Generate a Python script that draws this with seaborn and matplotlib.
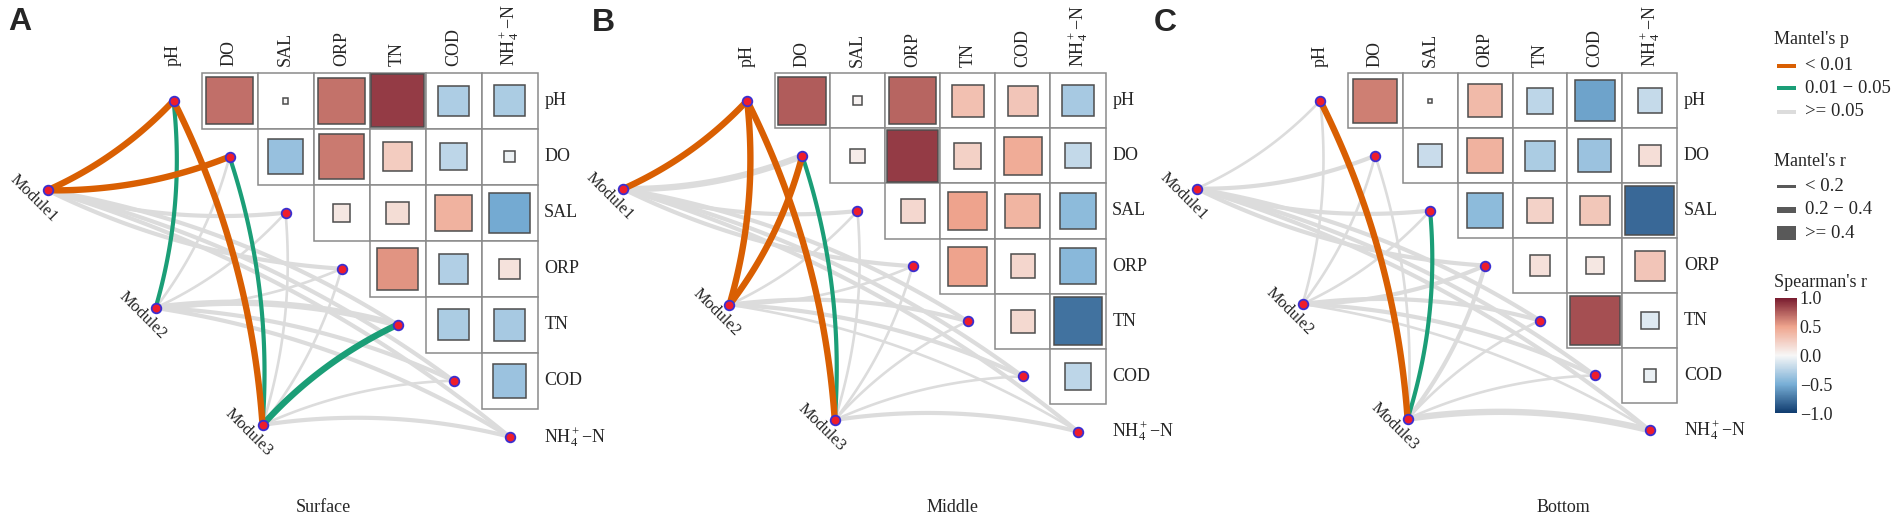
import numpy as np
import matplotlib.pyplot as plt
from matplotlib.patches import Rectangle
import matplotlib as mpl
import seaborn as sns

sns.set_style("white")
plt.rcParams["font.family"] = ["Liberation Serif", "DejaVu Serif"]
plt.rcParams["mathtext.fontset"] = "custom"
plt.rcParams["mathtext.rm"] = "Liberation Serif"
plt.rcParams["mathtext.it"] = "Liberation Serif:italic"
plt.rcParams["mathtext.bf"] = "Liberation Serif:bold"

# ---------------- dados ----------------
env_names = ["pH", "DO", "SAL", "ORP", "TN", "COD", "NH4"]
env_labels = ["pH", "DO", "SAL", "ORP", "TN", "COD", "NH$_4^+$\u2212N"]
modules = ["Module1", "Module2", "Module3"]
layers = ["Surface", "Middle", "Bottom"]
panel_tags = ["A", "B", "C"]

# Spearman's r, triangulo superior lido linha a linha
# (pH-DO, pH-SAL, ..., pH-NH4, DO-SAL, ..., COD-NH4)
spearman_surface = [0.69, 0.01, 0.68, 0.88, -0.29, -0.30,
                    -0.38, 0.65, 0.26, -0.23, -0.04,
                    0.10, 0.16, 0.42, -0.52,
                    0.56, -0.28, 0.13,
                    -0.30, -0.32,
                    -0.36]
spearman_middle = [0.76, 0.03, 0.73, 0.33, 0.30, -0.32,
                   0.07, 0.88, 0.23, 0.46, -0.21,
                   0.19, 0.50, 0.40, -0.42,
                   0.50, 0.20, -0.43,
                   0.18, -0.76,
                   -0.23]
spearman_bottom = [0.64, 0.005, 0.37, -0.23, -0.55, -0.20,
                   -0.18, 0.42, -0.30, -0.36, 0.15,
                   -0.42, 0.22, 0.29, -0.80,
                   0.14, 0.10, 0.30,
                   0.81, -0.10,
                   -0.05]

# Mantel: linhas Module1..Module3, colunas env_names
mantel_r_surface = [[0.46, 0.44, 0.27, 0.26, 0.28, 0.27, 0.25],
                    [0.32, 0.14, 0.13, 0.15, 0.41, 0.29, 0.26],
                    [0.43, 0.33, 0.15, 0.12, 0.47, 0.16, 0.28]]
mantel_p_surface = [[0.001, 0.003, 0.22, 0.35, 0.18, 0.27, 0.31],
                    [0.028, 0.46, 0.53, 0.37, 0.09, 0.16, 0.21],
                    [0.004, 0.022, 0.62, 0.49, 0.014, 0.42, 0.27]]
mantel_r_middle = [[0.45, 0.41, 0.27, 0.25, 0.29, 0.26, 0.24],
                   [0.44, 0.45, 0.14, 0.13, 0.28, 0.26, 0.17],
                   [0.42, 0.33, 0.15, 0.14, 0.16, 0.13, 0.27]]
mantel_p_middle = [[0.002, 0.08, 0.25, 0.33, 0.19, 0.28, 0.36],
                   [0.001, 0.002, 0.51, 0.47, 0.14, 0.23, 0.41],
                   [0.005, 0.031, 0.58, 0.55, 0.44, 0.49, 0.26]]
mantel_r_bottom = [[0.17, 0.28, 0.29, 0.27, 0.26, 0.28, 0.25],
                   [0.16, 0.15, 0.14, 0.24, 0.27, 0.26, 0.18],
                   [0.44, 0.15, 0.32, 0.26, 0.16, 0.14, 0.41]]
mantel_p_bottom = [[0.52, 0.21, 0.17, 0.29, 0.33, 0.24, 0.38],
                   [0.57, 0.49, 0.61, 0.32, 0.19, 0.26, 0.44],
                   [0.003, 0.47, 0.035, 0.28, 0.52, 0.46, 0.12]]

spearman_all = [spearman_surface, spearman_middle, spearman_bottom]
mantel_r_all = [mantel_r_surface, mantel_r_middle, mantel_r_bottom]
mantel_p_all = [mantel_p_surface, mantel_p_middle, mantel_p_bottom]

# ---------------- estilo / layout ----------------
W, H = 1902, 521
cmap = sns.blend_palette(["#0f3b6e", "#79afd6", "#f7f7f7", "#efa58e", "#781b2e"],
                         n_colors=256, as_cmap=True)
norm = mpl.colors.Normalize(-1, 1)
p_cores = ["#d95f02", "#1b9e77", "#dcdcdc"]
r_larguras = [1.9, 3.0, 4.6]
mod_pos = [(-2.25, 1.60), (-0.32, 3.70), (1.59, 5.79)]
origens = [(173.5, 100.7, 56.0), (747.1, 100.7, 55.15), (1320.2, 100.7, 54.95)]
titulos_xy = [(323.7, 507), (952.4, 507), (1563, 507)]
letras_xy = [(19.6, 22), (603, 23), (1165.6, 23)]
curv = 0.1

fig = plt.figure(figsize=(W / 100, H / 100), dpi=100)


def eixo_painel(ox, oy, step, xr=(-3.0, 7.6), yr=(-1.75, 7.4)):
    left = (ox + xr[0] * step) / W
    width = (xr[1] - xr[0]) * step / W
    top = oy + yr[0] * step
    bottom = oy + yr[1] * step
    ax = fig.add_axes([left, 1 - bottom / H, width, (bottom - top) / H])
    return ax, xr, yr


def curva(p0, p1, rad, n=80):
    p0 = np.asarray(p0, float)
    p1 = np.asarray(p1, float)
    d = p1 - p0
    normal = np.array([-d[1], d[0]])  # lado direito (eixo y para baixo)
    ctrl = (p0 + p1) / 2 + rad * normal
    t = np.linspace(0, 1, n)[:, None]
    return (1 - t) ** 2 * p0 + 2 * (1 - t) * t * ctrl + t ** 2 * p1


def categoria_p(p):
    return 0 if p < 0.01 else (1 if p < 0.05 else 2)


def categoria_r(r):
    return 0 if r < 0.2 else (1 if r < 0.4 else 2)


n = len(env_names)
for k in range(3):
    ox, oy, step = origens[k]
    ax, xr, yr = eixo_painel(ox, oy, step)

    # celulas + quadrados de Spearman
    vals = iter(spearman_all[k])
    for i in range(n):
        for j in range(i + 1, n):
            r = next(vals)
            ax.add_patch(Rectangle((j - 0.5, i - 0.5), 1, 1, facecolor="white",
                                   edgecolor="#8a8a8a", lw=1.1, zorder=2))
            s = np.sqrt(abs(r))
            ax.add_patch(Rectangle((j - s / 2, i - s / 2), s, s, facecolor=cmap(norm(r)),
                                   edgecolor="#4d4d4d", lw=1.1, zorder=3))

    # ligacoes de Mantel (cinza primeiro)
    links = []
    for m in range(3):
        for e in range(n):
            links.append((m, e, mantel_r_all[k][m][e], mantel_p_all[k][m][e]))
    links.sort(key=lambda L: -categoria_p(L[3]))
    for m, e, r, p in links:
        rad = curv if e <= 3 else -curv
        pts = curva(mod_pos[m], (e, e), rad)
        ax.plot(pts[:, 0], pts[:, 1], color=p_cores[categoria_p(p)],
                lw=r_larguras[categoria_r(r)], solid_capstyle="butt", zorder=1)

    # nos
    xs = [e for e in range(n)] + [p[0] for p in mod_pos]
    ys = [e for e in range(n)] + [p[1] for p in mod_pos]
    sns.scatterplot(x=xs, y=ys, ax=ax, s=48, color="#ee1d2c", edgecolor="#3b2fd0",
                    linewidth=1.3, zorder=6, legend=False)

    # rotulos
    for j, lab in enumerate(env_labels):
        ax.text(j, -0.62, lab, rotation=90, ha="left", va="center",
                rotation_mode="anchor", fontsize=13)
        ax.text(6.62, j, lab, ha="left", va="center", fontsize=13)
    for m, lab in enumerate(modules):
        ax.text(mod_pos[m][0] - 0.24, mod_pos[m][1] + 0.14, lab, rotation=-45,
                ha="center", va="center", rotation_mode="anchor", fontsize=12)

    ax.set_xlim(*xr)
    ax.set_ylim(yr[1], yr[0])
    ax.axis("off")

    fig.text(titulos_xy[k][0] / W, 1 - titulos_xy[k][1] / H, layers[k],
             ha="center", va="center", fontsize=13)
    fig.text(letras_xy[k][0] / W, 1 - letras_xy[k][1] / H, panel_tags[k],
             ha="center", va="center", fontsize=23, fontweight="bold",
             family=["Liberation Sans", "DejaVu Sans"])

# ---------------- legenda ----------------
axl = fig.add_axes([0, 0, 1, 1], zorder=-1)
axl.set_xlim(0, W)
axl.set_ylim(H, 0)
axl.axis("off")

tx, kx0, kx1, lx = 1774, 1777, 1796, 1805
axl.text(tx, 40, "Mantel's p", ha="left", va="center", fontsize=13)
p_labels = ["< 0.01", "0.01 \u2212 0.05", ">= 0.05"]
for c, lab, y in zip(p_cores, p_labels, [65.7, 88.3, 111.7]):
    axl.add_patch(Rectangle((kx0, y - 2), kx1 - kx0, 4, facecolor=c, edgecolor="none"))
    axl.text(lx, y, lab, ha="left", va="center", fontsize=13.5)

axl.text(tx, 161.7, "Mantel's r", ha="left", va="center", fontsize=13)
r_labels = ["< 0.2", "0.2 \u2212 0.4", ">= 0.4"]
for hk, lab, y in zip([3, 5.7, 14.3], r_labels, [186.7, 210, 233.3]):
    axl.add_patch(Rectangle((kx0, y - hk / 2), kx1 - kx0, hk, facecolor="#595959",
                            edgecolor="none"))
    axl.text(lx, y, lab, ha="left", va="center", fontsize=13.5)

axl.text(tx, 282.7, "Spearman's r", ha="left", va="center", fontsize=13)
cax = fig.add_axes([1775 / W, 1 - 413 / H, 22 / W, 115 / H])
cb = fig.colorbar(mpl.cm.ScalarMappable(norm=norm, cmap=cmap), cax=cax,
                  ticks=[-1, -0.5, 0, 0.5, 1])
cb.outline.set_visible(False)
cb.ax.set_yticklabels(["\u22121.0", "\u22120.5", "0.0", "0.5", "1.0"])
cb.ax.tick_params(length=4, width=0.8, color="white", direction="in", pad=2, labelsize=13)

fig.savefig("out.png", dpi=100)
